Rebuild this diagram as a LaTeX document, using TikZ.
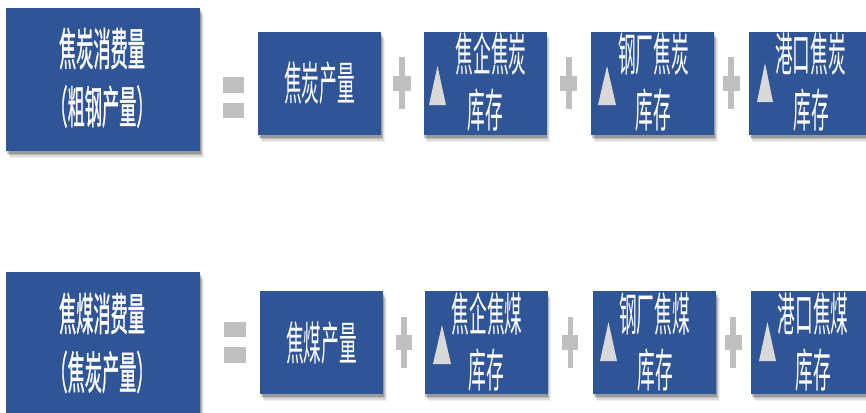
\documentclass[tikz,border=0pt]{standalone}
\usepackage{fontspec}
\usepackage{graphicx}
\newfontfamily\cjk{Noto Sans CJK SC}
\newfontfamily\cjkmed[FakeBold=1.2]{Noto Sans CJK SC}
\usetikzlibrary{shadows}
\definecolor{boxblue}{HTML}{2F5597}
\definecolor{opgray}{HTML}{BFBFBF}
\definecolor{trigray}{HTML}{D9D9D9}
\newcommand\stretchtxt[1]{\scalebox{1}[2.6]{#1}}
\tikzset{
  box/.style={fill=boxblue, draw=none, inner sep=0pt,
    drop shadow={shadow xshift=3.5pt, shadow yshift=-7pt, fill=black, opacity=0.06},
    drop shadow={shadow xshift=2.5pt, shadow yshift=-5.5pt, fill=black, opacity=0.09},
    drop shadow={shadow xshift=1.5pt, shadow yshift=-4pt, fill=black, opacity=0.14},
    drop shadow={shadow xshift=0.8pt, shadow yshift=-2.5pt, fill=black, opacity=0.18}},
  bigbox/.style={box, minimum width=194pt, minimum height=143pt},
  smallbox/.style={box, minimum width=123pt, minimum height=103pt},
  txt/.style={text=white, inner sep=0pt, font=\cjk\fontsize{17.7pt}{20pt}\selectfont},
  bigtxt/.style={txt, font=\cjkmed\fontsize{17.2pt}{20pt}\selectfont},
  opfill/.style={fill=opgray},
  trifill/.style={fill=trigray}
}
\begin{document}
\begin{tikzpicture}[x=1pt, y=-1pt]
\useasboundingbox (0,0) rectangle (866,412);

% ---------- top row ----------
\node[bigbox] (A1) at (103,79.5) {};
\node[bigtxt] (A1a) at (102,48.5) {\stretchtxt{焦炭消费量}};
\node[bigtxt] (A1b) at (102,106.5) {\stretchtxt{（粗钢产量）}};

\node[smallbox] (B1) at (319.5,83.5) {};
\node[txt] (B1a) at (319.5,83.5) {\stretchtxt{焦炭产量}};

\node[smallbox] (C1) at (485,83.5) {};
\node[txt] (C1a) at (491,54) {\stretchtxt{焦企焦炭}};
\node[txt] (C1b) at (485,110) {\stretchtxt{库存}};
\fill[trifill] (429,105) -- (437.5,66) -- (446,105) -- cycle;

\node[smallbox] (D1) at (652.5,83.5) {};
\node[txt] (D1a) at (653.5,54) {\stretchtxt{钢厂焦炭}};
\node[txt] (D1b) at (653,110) {\stretchtxt{库存}};
\fill[trifill] (598,105) -- (607,66) -- (616,105) -- cycle;

\node[smallbox] (E1) at (810.5,83.5) {};
\node[txt] (E1a) at (810.5,54) {\stretchtxt{港口焦炭}};
\node[txt] (E1b) at (811.5,110) {\stretchtxt{库存}};
\fill[trifill] (757,102) -- (765,63) -- (773,102) -- cycle;

% operators top
\fill[opfill] (223,77) rectangle (244,93);
\fill[opfill] (223,103) rectangle (244,118);
\fill[opfill] (393.3,76) rectangle (410.7,90.5);
\fill[opfill] (399.3,57.3) rectangle (405,109.3);
\fill[opfill] (560,76) rectangle (576.7,90.5);
\fill[opfill] (565.7,57.3) rectangle (571.7,109.3);
\fill[opfill] (722.7,76) rectangle (740,90.5);
\fill[opfill] (728.3,57.3) rectangle (734.3,109.3);

% ---------- bottom row ----------
\node[bigbox] (A2) at (103,343.5) {};
\node[bigtxt] (A2a) at (102,313.5) {\stretchtxt{焦煤消费量}};
\node[bigtxt] (A2b) at (102,372) {\stretchtxt{（焦炭产量）}};

\node[smallbox] (B2) at (321.5,342.5) {};
\node[txt] (B2a) at (321.5,343) {\stretchtxt{焦煤产量}};

\node[smallbox] (C2) at (486,342.5) {};
\node[txt] (C2a) at (487,314) {\stretchtxt{焦企焦煤}};
\node[txt] (C2b) at (486,370) {\stretchtxt{库存}};
\fill[trifill] (433,364) -- (442,325) -- (451,364) -- cycle;

\node[smallbox] (D2) at (654.5,342.5) {};
\node[txt] (D2a) at (654.5,314) {\stretchtxt{钢厂焦煤}};
\node[txt] (D2b) at (655,370) {\stretchtxt{库存}};
\fill[trifill] (600,361) -- (608.5,322) -- (617,361) -- cycle;

\node[smallbox] (E2) at (812.5,342.5) {};
\node[txt] (E2a) at (813,314) {\stretchtxt{港口焦煤}};
\node[txt] (E2b) at (813,370) {\stretchtxt{库存}};
\fill[trifill] (759,361) -- (767.5,322) -- (776,361) -- cycle;

% operators bottom
\fill[opfill] (224,322) rectangle (246,337);
\fill[opfill] (224,347) rectangle (246,363);
\fill[opfill] (396,335) rectangle (412,350);
\fill[opfill] (401,317) rectangle (406.7,368);
\fill[opfill] (562,335) rectangle (578,350);
\fill[opfill] (567.7,317) rectangle (573.3,368);
\fill[opfill] (725,335) rectangle (742,350);
\fill[opfill] (730,317) rectangle (736,368);
\end{tikzpicture}
\end{document}
